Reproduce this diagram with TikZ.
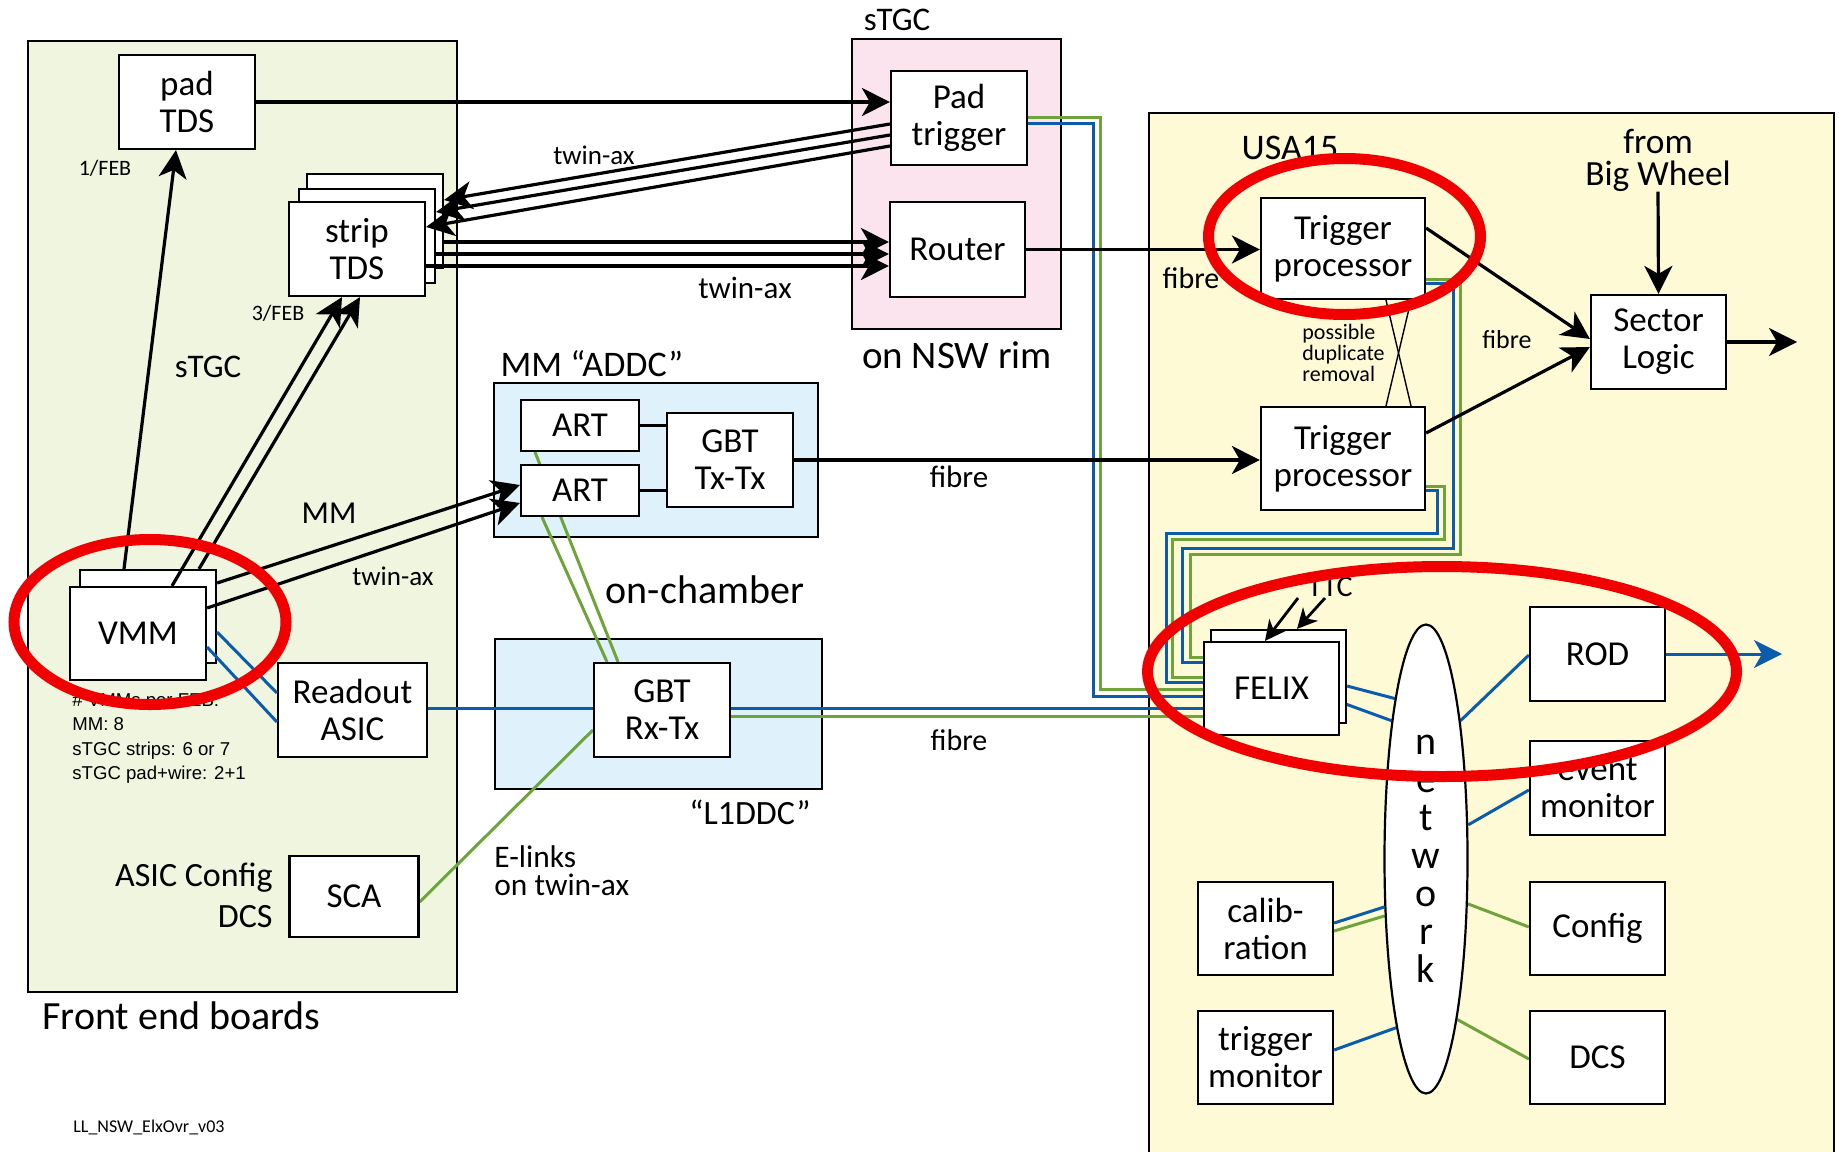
\documentclass[tikz,border=0pt]{standalone}
\usepackage{fontspec}
\setmainfont{Carlito}
\newfontfamily\arialfont{Liberation Sans}
\usetikzlibrary{arrows.meta,calc,shapes.geometric}
\pgfdeclarelayer{bg}
\pgfdeclarelayer{wires}
\pgfsetlayers{bg,wires,main}
\definecolor{wireblue}{RGB}{11,92,173}
\definecolor{wiregreen}{RGB}{111,164,58}
\definecolor{febfill}{RGB}{239,245,222}
\definecolor{pinkfill}{RGB}{252,228,238}
\definecolor{bluefill}{RGB}{223,241,251}
\definecolor{yellowfill}{RGB}{254,250,214}
\definecolor{annotred}{RGB}{240,0,0}
\newcommand{\myfs}[2]{\fontsize{#1}{#2}\selectfont}
\begin{document}
\begin{tikzpicture}[x=0.5pt,y=-0.5pt,
  box/.style={draw, line width=1.1pt, fill=white, align=center, inner sep=0pt, font=\myfs{17.5}{18.5}},
  wh/.style 2 args={minimum width=#1*0.5pt, minimum height=#2*0.5pt},
  region/.style={draw, line width=1pt},
  arr/.style={line width=1.6pt, -{Stealth[length=14pt,width=14pt,inset=4pt]}},
  arrs/.style={line width=1.4pt, -{Stealth[length=10pt,width=10pt,inset=3pt]}},
  blk/.style={line width=1.6pt},
  thinline/.style={line width=0.7pt},
  blu/.style={line width=1.5pt, draw=wireblue},
  grn/.style={line width=1.5pt, draw=wiregreen},
  lbl/.style={inner sep=0pt},
  redring/.style={draw=annotred, line width=5.5pt}
]
\useasboundingbox (0,0) rectangle (1839,1151);

% ---------- regions ----------
\begin{pgfonlayer}{bg}
\fill[white] (0,0) rectangle (1839,1151);
\filldraw[region, fill=febfill] (28,41) rectangle (457,992);
\filldraw[region, fill=pinkfill] (852,39) rectangle (1061,329);
\filldraw[region, fill=bluefill] (494,383) rectangle (818,537);
\filldraw[region, fill=bluefill] (495,639) rectangle (822,789);
\filldraw[region, fill=yellowfill] (1149,113) rectangle (1834,1175);
\end{pgfonlayer}

% ---------- nodes ----------
\node[box, wh={136}{94}] (padTDS) at (187,102) {pad\\TDS};
\node[box, wh={136}{94}] (stripC) at (375,221) {};
\node[box, wh={136}{94}] (stripB) at (367,236) {};
\node[box, wh={136}{94}] (stripA) at (357,249) {strip\\TDS};
\node[box, wh={136}{93}] (vmmB) at (148,616.5) {};
\node[box, wh={136}{93}] (vmmA) at (138,633.5) {VMM};
\node[box, wh={149}{94}] (readout) at (352.5,710) {Readout\\ASIC};
\node[box, wh={129}{81}] (sca) at (354,896.5) {SCA};
\node[box, wh={136}{94}] (padtrig) at (959,118) {Pad\\trigger};
\node[box, wh={135}{95}] (router) at (957.5,249.5) {Router};
\node[box, wh={118}{51}] (art1) at (580,425.5) {ART};
\node[box, wh={118}{51}] (art2) at (580,490.5) {ART};
\node[box, wh={126}{94}] (gbttx) at (730,460) {GBT\\Tx-Tx};
\node[box, wh={136}{94}] (gbtrx) at (662,710) {GBT\\Rx-Tx};
\node[box, wh={164}{101}] (tp1) at (1343,248.5) {Trigger\\processor};
\node[box, wh={164}{103}] (tp2) at (1343,458.5) {Trigger\\processor};
\node[box, wh={135}{94}] (sl) at (1658.5,342) {Sector\\Logic};
\node[box, wh={135}{93}] (felixB) at (1278.5,676.5) {};
\node[box, wh={135}{93}] (felixA) at (1271.5,688.5) {FELIX};
\node[box, wh={135}{94}] (rod) at (1597.5,654) {ROD};
\node[box, wh={135}{94}] (evmon) at (1597.5,788) {event\\monitor};
\node[box, wh={135}{93}] (config) at (1597.5,928.5) {Config};
\node[box, wh={135}{93}] (dcs) at (1597.5,1057.5) {DCS};
\node[box, wh={135}{93}] (calib) at (1265.5,928.5) {calib-\\ration};
\node[box, wh={135}{93}] (trigmon) at (1265.5,1057.5) {trigger\\monitor};
\node[box, ellipse, wh={83}{469}, font=\myfs{20}{19}] (net) at (1426,859) {n\\e\\t\\w\\o\\r\\k};

% ---------- labels ----------
\node[lbl, font=\myfs{11}{12}] (feb1) at (105,168) {1/FEB};
\node[lbl, font=\myfs{11}{12}] (feb3) at (278,313) {3/FEB};
\node[lbl, font=\myfs{16.5}{18}] (stgcl) at (208,367) {sTGC};
\node[lbl, font=\myfs{16}{18}] (mml) at (329,513) {MM};
\node[lbl, font=\myfs{13.5}{15}] (twa1) at (393,576) {twin-ax};
\node[lbl, font=\myfs{13.5}{15}] (twa2) at (594,155) {twin-ax};
\node[lbl, font=\myfs{15.5}{17}] (twa3) at (745,288) {twin-ax};
\node[lbl, font=\myfs{16.5}{18}] (stgct) at (897,20) {sTGC};
\node[lbl, font=\myfs{19.5}{22}] (nswrim) at (957,355) {on NSW rim};
\node[lbl, font=\myfs{18}{20}] (addc) at (592,364) {MM “ADDC”};
\node[lbl, font=\myfs{20}{22}] (onch) at (705,590) {on-chamber};
\node[lbl, font=\myfs{17}{19}] (l1ddc) at (750,812) {“L1DDC”};
\node[lbl, font=\myfs{15.5}{17}] (fib1) at (959,477) {fibre};
\node[lbl, font=\myfs{15}{17}] (fib2) at (959,740) {fibre};
\node[lbl, font=\myfs{15}{17}] (fib3) at (1191,278) {fibre};
\node[lbl, font=\myfs{13}{15}] (fib4) at (1507,340) {fibre};
\node[lbl, font=\myfs{18}{20}] (usa) at (1290,148) {USA15};
\node[lbl, align=center, font=\myfs{17.7}{16}] (bw) at (1658,160) {from\\Big Wheel};
\node[lbl, anchor=west, align=left, font=\myfs{11}{10.5}] (dup) at (1302,353) {possible\\duplicate\\removal};
\node[lbl, font=\myfs{15}{17}] (ttc) at (1330,587) {TTC};
\node[lbl, anchor=west, align=left, font=\myfs{15.7}{14}] (elinks) at (494,871) {E-links\\on twin-ax};
\node[lbl, anchor=east, align=right, font=\myfs{17}{20.5}] (asiccfg) at (273,895.5) {ASIC Config\\DCS};
\node[lbl, anchor=west, font=\myfs{20}{24}] (febl) at (42,1016) {Front end boards};
\node[lbl, anchor=west, font=\myfs{9}{10}] (ver) at (73,1127) {LL\_NSW\_ElxOvr\_v03};
\node[lbl, anchor=west, align=left, font=\arialfont\myfs{9.3}{12.25}] (vmmnote) at (72,738.5) {\# VMMs per FEB:\\MM: 8\\sTGC strips: 6 or 7\\sTGC pad+wire: 2+1};

% ---------- wires (blue / green) ----------
\begin{pgfonlayer}{wires}
\draw[grn] ($(art1.south)+(-45,0)$) -- ($(gbtrx.north)+(-44,0)$);
\draw[grn] ($(art2.south)+(-38,0)$) -- ($(gbtrx.north)+(-55,0)$);
\draw[blu] ($(readout.east)+(0,-2)$) coordinate (r1) -- (r1 -| gbtrx.west);
\draw[grn] ($(sca.east)+(0,5.5)$) -- ($(gbtrx.west)+(0,20)$);
\draw[blu] ($(gbtrx.east)+(0,-2)$) coordinate (gb1) -- (gb1 -| felixA.west);
\draw[grn] ($(gbtrx.east)+(0,6)$) coordinate (gg1) -- (gg1 -| felixA.west);
\coordinate (pg1) at (1100,689);
\coordinate (pb1) at (1093,696);
\draw[grn] ($(padtrig.east)+(0,-1)$) -| (pg1) -- (pg1 -| felixA.west);
\draw[blu] ($(padtrig.east)+(0,5)$) -| (pb1) -- (pb1 -| felixA.west);
\coordinate (t1ga) at (1460,554); \coordinate (t1gb) at (1190,657);
\coordinate (t1ba) at (1453,548); \coordinate (t1bb) at (1182,662);
\coordinate (t2ga) at (1444,539); \coordinate (t2gb) at (1172,677);
\coordinate (t2ba) at (1437,533); \coordinate (t2bb) at (1166,682);
\draw[grn] ($(tp1.east)+(0,30.5)$) -| (t1ga) -| (t1gb) -- (t1gb -| felixA.west);
\draw[blu] ($(tp1.east)+(0,34.5)$) -| (t1ba) -| (t1bb) -- (t1bb -| felixA.west);
\draw[grn] ($(tp2.east)+(0,27.5)$) -| (t2ga) -| (t2gb) -- (t2gb -| felixA.west);
\draw[blu] ($(tp2.east)+(0,31.5)$) -| (t2ba) -| (t2bb) -- (t2bb -| felixA.west);
\draw[blu] ($(felixA.east)+(0,13.5)$) -- (net.104);
\draw[blu] ($(felixB.east)+(0,9.5)$) -- (net.101);
\draw[blu] (net.76) -- ($(rod.west)+(0,1)$);
\draw[blu] (net.39) -- ($(evmon.west)+(0,2)$);
\draw[grn] (net.-47) -- ($(config.west)+(0,-1.5)$);
\draw[grn] (net.-79) -- ($(dcs.west)+(0,1.5)$);
\draw[blu] ($(calib.east)+(0,-5.5)$) -- (net.229);
\draw[grn] ($(calib.east)+(0,2.5)$) -- (net.234);
\draw[blu] ($(trigmon.east)+(0,-7.5)$) -- (net.260);
\end{pgfonlayer}

\draw[blu] ($(vmmB.east)+(0,15.5)$) -- ($(readout.west)+(0,-17)$);
\draw[blu] ($(vmmA.east)+(0,13.5)$) -- ($(readout.west)+(0,12)$);

% ---------- black connectors ----------
\draw[arr] (padTDS.east) -- (padTDS.east -| padtrig.west);
\draw[arr] ($(padtrig.west)+(0,6)$) -- ($(stripC.east)+(0,-21)$);
\draw[arr] ($(padtrig.west)+(0,17)$) -- ($(stripB.east)+(0,-24)$);
\draw[arr] ($(padtrig.west)+(0,28)$) -- ($(stripA.east)+(0,-22)$);
\draw[arr] ($(stripC.east)+(0,21)$) coordinate (s1) -- (s1 -| router.west);
\draw[arr] ($(stripB.east)+(0,18)$) coordinate (s2) -- (s2 -| router.west);
\draw[arr] ($(stripA.east)+(0,17)$) coordinate (s3) -- (s3 -| router.west);
\draw[arr] (router.east) -- (router.east -| tp1.west);
\draw[arr] (gbttx.east) -- (gbttx.east -| tp2.west);
\draw[arr] ($(tp1.east)+(0,-20.5)$) -- ($(sl.west)+(0,-3)$);
\draw[arr] ($(tp2.east)+(0,-25.5)$) -- ($(sl.west)+(0,5)$);
\draw[arr] (bw.south) -- (sl.north);
\coordinate (slout) at (1797,342);
\draw[arr] (sl.east) -- (slout);
\draw[arr] ($(vmmB.north)+(-24,0)$) -- ($(padTDS.south)+(-11,0)$);
\draw[arr] ($(vmmA.north)+(34,0)$) -- ($(stripA.south)+(-15,0)$);
\draw[arr] ($(vmmB.north)+(51,0)$) -- ($(stripA.south)+(3,0)$);
\draw[arr] ($(vmmB.east)+(0,-33.5)$) -- ($(art2.west)+(0,-5.5)$);
\draw[arr] ($(vmmA.east)+(0,-25.5)$) -- ($(art2.west)+(0,12.5)$);
\draw[blk] (art1.east) -- (art1.east -| gbttx.west);
\draw[blk] (art2.east) -- (art2.east -| gbttx.west);
\draw[thinline] ($(tp1.south)+(43,0)$) -- ($(tp2.north)+(68,0)$);
\draw[thinline] ($(tp1.south)+(68,0)$) -- ($(tp2.north)+(43,0)$);
\coordinate (ttc1) at (1298,598);
\coordinate (ttc2) at (1325,598);
\draw[arrs] (ttc1) -- ($(felixA.north)+(-6.5,0)$);
\draw[arrs] (ttc2) -- ($(felixB.north)+(18.5,0)$);
\coordinate (rodout) at (1782,654);
\draw[arr, draw=wireblue, fill=wireblue, line width=1.5pt] (rod.east) -- (rodout);

% ---------- red annotation rings ----------
\draw[redring] (150,622) ellipse [x radius=68pt, y radius=41.25pt];
\draw[redring] (1344.5,236.5) ellipse [x radius=68pt, y radius=39pt];
\draw[redring] (1442,671.5) ellipse [x radius=147.25pt, y radius=52.5pt];
\end{tikzpicture}
\end{document}
